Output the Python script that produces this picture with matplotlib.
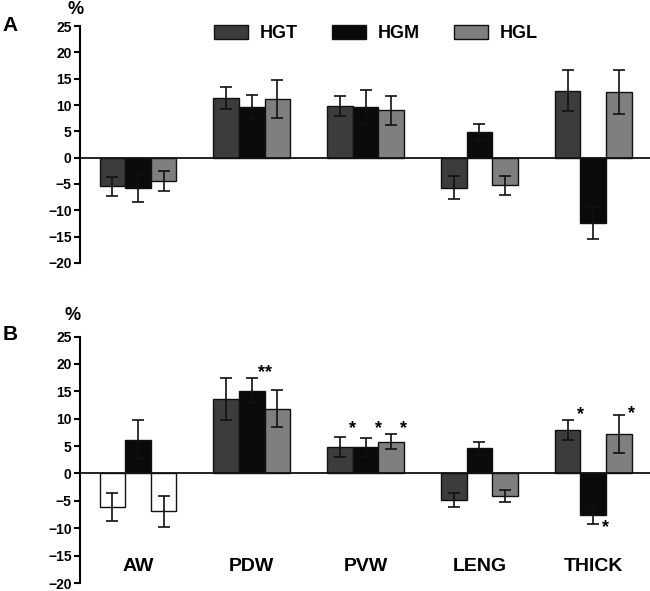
import numpy as np
import matplotlib
matplotlib.use("Agg")
import matplotlib.pyplot as plt
from matplotlib.patches import Patch

plt.rcParams['font.family'] = ['Liberation Sans', 'DejaVu Sans']
plt.rcParams['font.weight'] = 'bold'

categories = ["AW", "PDW", "PVW", "LENG", "THICK"]
series = ["HGT", "HGM", "HGL"]

# panel A
a_hgt = [-5.4, 11.4, 9.8, -5.7, 12.7]
a_hgt_err = [1.8, 2.1, 1.9, 2.2, 3.9]
a_hgm = [-5.8, 9.6, 9.6, 4.9, -12.4]
a_hgm_err = [2.7, 2.3, 3.3, 1.5, 3.0]
a_hgl = [-4.4, 11.1, 9.0, -5.2, 12.4]
a_hgl_err = [1.9, 3.6, 2.8, 1.8, 4.2]

# panel B
b_hgt = [-6.1, 13.6, 4.9, -4.9, 8.0]
b_hgt_err = [2.6, 3.9, 1.8, 1.3, 1.8]
b_hgm = [6.2, 15.1, 4.8, 4.6, -7.6]
b_hgm_err = [3.5, 2.3, 1.7, 1.2, 1.6]
b_hgl = [-6.9, 11.8, 5.8, -4.1, 7.2]
b_hgl_err = [2.8, 3.4, 1.4, 1.1, 3.5]

# significance marks in panel B: (category, series, text, y)
star_cat = [1, 2, 2, 2, 4, 4, 4]
star_ser = [1, 0, 1, 2, 0, 1, 2]
star_txt = ["**", "*", "*", "*", "*", "*", "*"]
star_y = [18.4, 8.2, 8.2, 8.2, 10.7, -9.8, 10.9]

colors = ["#3c3c3c", "#0a0a0a", "#7f7f7f"]
bw = 0.225
x = np.arange(len(categories))


def draw_panel(ax, vals, errs, faces):
    for j in range(3):
        pos = x + (j - 1) * bw
        ax.bar(pos, vals[j], bw, color=faces[j], edgecolor="#111111", linewidth=1.0, zorder=2)
        ax.errorbar(pos, vals[j], yerr=errs[j], fmt="none", ecolor="#111111",
                    elinewidth=1.2, capsize=4, capthick=1.2, zorder=3)
    ax.axhline(0, color="#111111", lw=1.3, zorder=4)
    ax.set_xlim(-0.51, 4.5)
    ax.set_ylim(-20, 25)
    ax.set_yticks(np.arange(-20, 26, 5))
    ax.set_xticks([])
    for s in ["top", "right", "bottom"]:
        ax.spines[s].set_visible(False)
    ax.spines["left"].set_linewidth(1.5)
    ax.tick_params(axis="y", direction="out", length=4, width=1.5, labelsize=10, pad=2)
    for lab in ax.get_yticklabels():
        lab.set_fontweight("bold")


fig = plt.figure(figsize=(6.5, 5.91), dpi=100)
axA = fig.add_axes([0.123, 0.555, 0.877, 0.401])
axB = fig.add_axes([0.123, 0.0135, 0.877, 0.417])

draw_panel(axA, [a_hgt, a_hgm, a_hgl], [a_hgt_err, a_hgm_err, a_hgl_err],
           [colors[0], colors[1], colors[2]])

# AW bars of HGT and HGL are left unfilled in panel B
b_faces_hgt = [colors[0]] * 5
b_faces_hgt[0] = "white"
b_faces_hgl = [colors[2]] * 5
b_faces_hgl[0] = "white"
draw_panel(axB, [b_hgt, b_hgm, b_hgl], [b_hgt_err, b_hgm_err, b_hgl_err],
           [b_faces_hgt, colors[1], b_faces_hgl])

for c, s, t, yy in zip(star_cat, star_ser, star_txt, star_y):
    xx = x[c] + (s - 1) * bw + 0.5 * bw
    axB.text(xx, yy, t, ha="center", va="center", fontsize=13, fontweight="bold")

for i, cat in enumerate(categories):
    axB.text(x[i], -17.0, cat, ha="center", va="center", fontsize=14, fontweight="bold")

handles = [Patch(facecolor=colors[k], edgecolor="#111111", linewidth=1.0) for k in range(3)]
fig.legend(handles, series, loc="center", bbox_to_anchor=(0.578, 0.943), ncol=3,
           frameon=False, handlelength=1.88, handleheight=0.78,
           handletextpad=0.65, columnspacing=1.9, prop={"weight": "bold", "size": 13})

fig.text(10 / 650, 1 - 25.5 / 591, "A", ha="center", va="center", fontsize=15, fontweight="bold")
fig.text(10 / 650, 1 - 334 / 591, "B", ha="center", va="center", fontsize=15, fontweight="bold")
fig.text(76 / 650, 1 - 9 / 591, "%", ha="center", va="center", fontsize=13, fontweight="bold")
fig.text(73 / 650, 1 - 316 / 591, "%", ha="center", va="center", fontsize=13, fontweight="bold")

fig.savefig("out.png", dpi=100)
